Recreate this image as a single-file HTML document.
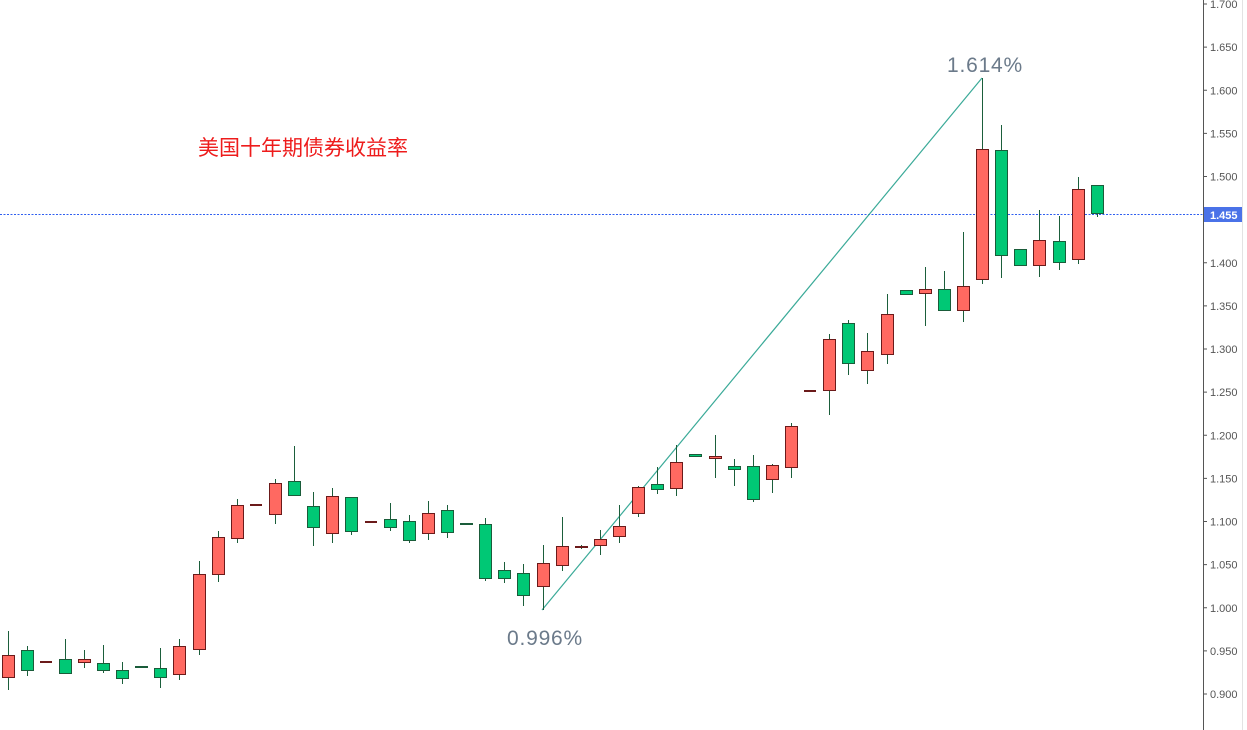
<!DOCTYPE html>
<html><head><meta charset="utf-8"><style>
html,body{margin:0;padding:0;background:#fff;}
svg{display:block;}
</style></head><body>
<svg width="1247" height="730" xmlns="http://www.w3.org/2000/svg" font-family="Liberation Sans, sans-serif">
<rect width="1247" height="730" fill="#fff"/>
<line x1="1242.5" y1="0" x2="1242.5" y2="730" stroke="#e3e3e3"/>
<line x1="1203.5" y1="0" x2="1203.5" y2="730" stroke="#555"/>
<g id="ticks" fill="#555" font-size="11"></g>
<line x1="0" y1="214.5" x2="1203" y2="214.5" stroke="#2f5ff0" stroke-dasharray="2,1.5" stroke-width="1"/>
<line x1="542" y1="610" x2="982" y2="78" stroke="#3aaa98" stroke-width="1.2"/>
<g id="c"></g>
<rect x="1204" y="207" width="38" height="15" fill="#4a72e8"/>
<text x="1210" y="219" fill="#fff" font-size="11" font-weight="bold">1.455</text>
<text x="545" y="645" fill="#6b7a8a" font-size="21" letter-spacing="0.8" text-anchor="middle">0.996%</text>
<text x="985" y="72" fill="#6b7a8a" font-size="21" letter-spacing="0.8" text-anchor="middle">1.614%</text>
<text x="198" y="155" fill="#ee1c1c" font-size="21" font-family="Liberation Sans, Noto Sans CJK SC, sans-serif">美国十年期债券收益率</text>
</svg>
<script>
var ns="http://www.w3.org/2000/svg";
var t=document.getElementById("ticks");
for(var i=0;i<=16;i++){var v=1.7-i*0.05,y=4+i*43.125;
var l=document.createElementNS(ns,"line");l.setAttribute("x1",1203);l.setAttribute("x2",1207);l.setAttribute("y1",y);l.setAttribute("y2",y);l.setAttribute("stroke","#555");t.appendChild(l);
if(Math.abs(v-1.45)>0.001){var tx=document.createElementNS(ns,"text");tx.setAttribute("x",1210);tx.setAttribute("y",y+4);tx.textContent=v.toFixed(3);t.appendChild(tx);}}
var C=[[655,678,631,690,'r'],[650,671,646,676,'g'],[662,662,662,662,'d'],[659,674,639,674,'g'],[659,663,650,668,'r'],[663,671,645,673,'g'],[670,679,662,684,'g'],[666,668,666,668,'g'],[668,678,648,688,'g'],[646,675,639,680,'r'],
[574,650,561,655,'r'],[537,575,531,582,'r'],[505,539,499,543,'r'],[505,505,505,505,'d'],[483,515,479,524,'r'],[481,496,446,496,'g'],[506,528,492,546,'g'],[496,534,488,543,'r'],[497,532,497,535,'g'],[522,522,522,522,'d'],
[519,528,503,531,'g'],[521,541,515,543,'g'],[513,534,501,540,'r'],[510,533,505,538,'g'],[523,525,523,525,'g'],[524,579,518,581,'g'],[570,579,562,583,'g'],[573,596,564,606,'g'],[563,587,545,610,'r'],[546,566,517,571,'r'],
[546,548,545,549,'r'],[539,546,530,555,'r'],[526,537,505,543,'r'],[487,514,486,517,'r'],[484,490,467,494,'g'],[462,489,445,496,'r'],[454,457,454,457,'g'],[456,459,435,478,'r'],[466,470,459,486,'g'],[466,500,455,502,'g'],
[465,480,464,493,'r'],[426,468,423,478,'r'],[391,391,391,391,'d'],[339,391,334,415,'r'],[323,364,320,375,'g'],[351,371,333,384,'r'],[314,355,294,364,'r'],[290,295,290,295,'g'],[289,294,267,326,'r'],[289,311,271,311,'g'],
[286,311,232,322,'r'],[149,280,78,284,'r'],[150,256,125,278,'g'],[249,266,249,266,'g'],[240,266,210,277,'r'],[241,263,216,270,'g'],[189,260,177,264,'r'],[185,214,185,217,'g']];
var g=document.getElementById("c");
C.forEach(function(c,i){var x=Math.round(7.5+i*19.11);
if(c[4]=='d'){var d=document.createElementNS(ns,"rect");d.setAttribute("x",x-6);d.setAttribute("y",c[0]-1);d.setAttribute("width",12);d.setAttribute("height",2);d.setAttribute("fill","#6b1a1a");g.appendChild(d);return;}
var w=document.createElementNS(ns,"line");w.setAttribute("x1",x+0.5);w.setAttribute("x2",x+0.5);w.setAttribute("y1",c[2]);w.setAttribute("y2",c[3]);w.setAttribute("stroke","#1b5e3b");w.setAttribute("stroke-width",1);g.appendChild(w);
var r=document.createElementNS(ns,"rect");r.setAttribute("x",x-5.5);r.setAttribute("y",c[0]+0.5);r.setAttribute("width",12);r.setAttribute("height",Math.max(c[1]-c[0]-1,1));
r.setAttribute("fill",c[4]=='r'?"#ff6961":"#00c875");r.setAttribute("stroke",c[4]=='r'?"#6b1a1a":"#1a5c3a");r.setAttribute("stroke-width",1);g.appendChild(r);});
</script>
</body></html>
